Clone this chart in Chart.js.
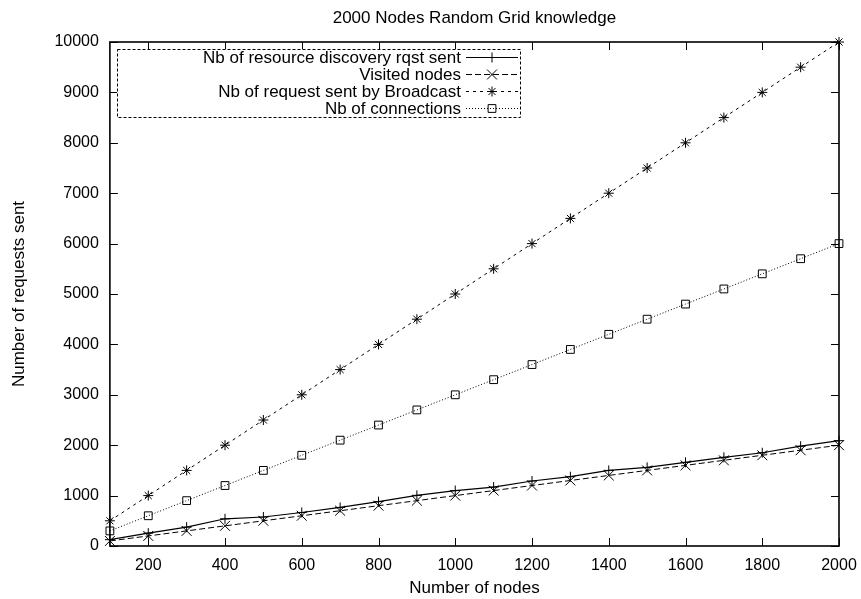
<!DOCTYPE html>
<html>
<head>
<meta charset="utf-8">
<script src="https://cdn.jsdelivr.net/npm/chart.js@4/dist/chart.umd.min.js"></script>
<style>
  body { margin: 0; background: #fff; }
  #chart { display: block; }
</style>
</head>
<body>
<canvas id="chart" width="861" height="599"></canvas>
<script>
// data
const nodes = [100, 200, 300, 400, 500, 600, 700, 800, 900, 1000, 1100, 1200, 1300, 1400, 1500, 1600, 1700, 1800, 1900, 2000];
const discoverySent = [125, 255, 375, 540, 575, 665, 765, 880, 1005, 1100, 1170, 1290, 1375, 1500, 1560, 1660, 1760, 1850, 1980, 2090];
const visitedNodes = [100, 200, 300, 400, 500, 600, 700, 800, 900, 1000, 1100, 1200, 1300, 1400, 1500, 1600, 1700, 1800, 1900, 2000];
const broadcastSent = [500, 1000, 1500, 2000, 2500, 3000, 3500, 4000, 4500, 5000, 5500, 6000, 6500, 7000, 7500, 8000, 8500, 9000, 9500, 10000];
const connections = [300, 600, 900, 1200, 1500, 1800, 2100, 2400, 2700, 3000, 3300, 3600, 3900, 4200, 4500, 4800, 5100, 5400, 5700, 6000];

const xTicks = [200, 400, 600, 800, 1000, 1200, 1400, 1600, 1800, 2000];
const yTicks = [0, 1000, 2000, 3000, 4000, 5000, 6000, 7000, 8000, 9000, 10000];

const FONT = "'Liberation Sans', Arial, sans-serif";

function toPoints(values) {
    return nodes.map((n, i) => ({ x: n, y: values[i] }));
}

function makeSet(label, values, dash, style, radius, width) {
    return {
        label: label,
        data: toPoints(values),
        borderColor: "#000",
        backgroundColor: "rgba(0,0,0,0)",
        borderWidth: width,
        borderDash: dash,
        pointStyle: style,
        pointRadius: radius,
        pointBorderColor: "#000",
        pointBackgroundColor: "rgba(0,0,0,0)",
        pointBorderWidth: 1,
        tension: 0,
        clip: false,
    };
}

// gnuplot like frame with inward ticks on all sides
const framePlugin = {
    id: "frame",
    afterDatasetsDraw(chart) {
        const ctx = chart.ctx;
        const a = chart.chartArea;
        const xs = chart.scales.x, ys = chart.scales.y;
        ctx.save();
        ctx.strokeStyle = "#000";
        ctx.lineWidth = 1;
        ctx.setLineDash([]);
        ctx.beginPath();
        xTicks.forEach(v => {
            const px = Math.round(xs.getPixelForValue(v)) + 0.5;
            ctx.moveTo(px, a.bottom); ctx.lineTo(px, a.bottom - 8);
            ctx.moveTo(px, a.top); ctx.lineTo(px, a.top + 8);
        });
        yTicks.forEach(v => {
            const py = Math.round(ys.getPixelForValue(v)) + 0.5;
            ctx.moveTo(a.left, py); ctx.lineTo(a.left + 8, py);
            ctx.moveTo(a.right, py); ctx.lineTo(a.right - 8, py);
        });
        ctx.stroke();
        ctx.lineWidth = 1.6;
        ctx.strokeRect(a.left, a.top, a.right - a.left, a.bottom - a.top);
        ctx.restore();
    }
};

// legend drawn like the gnuplot key: text right aligned, samples on the right
const keyPlugin = {
    id: "key",
    afterDraw(chart) {
        const ctx = chart.ctx;
        const boxL = 117, boxT = 49, boxR = 520, boxB = 117;
        ctx.save();
        ctx.strokeStyle = "#000";
        ctx.lineWidth = 1;
        ctx.setLineDash([3, 2]);
        ctx.fillStyle = "#fff";
        ctx.fillRect(boxL, boxT, boxR - boxL, boxB - boxT);
        ctx.strokeRect(boxL + 0.5, boxT + 0.5, boxR - boxL, boxB - boxT);
        ctx.font = "17px " + FONT;
        ctx.textAlign = "right";
        ctx.textBaseline = "middle";
        chart.data.datasets.forEach((ds, i) => {
            const y = 58 + i * 17;
            ctx.fillStyle = "#000";
            ctx.setLineDash([]);
            ctx.fillText(ds.label, 461, y);
            ctx.lineWidth = ds.borderWidth;
            ctx.setLineDash(ds.borderDash);
            ctx.beginPath();
            ctx.moveTo(466, y - 0.5);
            ctx.lineTo(518, y - 0.5);
            ctx.stroke();
            ctx.setLineDash([]);
            ctx.lineWidth = 1;
            ctx.fillStyle = "rgba(0,0,0,0)";
            Chart.helpers.drawPoint(ctx, {
                pointStyle: ds.pointStyle,
                radius: ds.pointRadius,
                rotation: 0,
                borderWidth: 1
            }, 492, y - 0.5);
        });
        ctx.restore();
    }
};

new Chart(document.getElementById("chart"), {
    type: "line",
    data: {
        datasets: [
            makeSet("Nb of resource discovery rqst sent", discoverySent, [], "cross", 5, 1.2),
            makeSet("Visited nodes", visitedNodes, [6, 3], "crossRot", 7, 1),
            makeSet("Nb of request sent by Broadcast", broadcastSent, [3, 4], "star", 5, 1),
            makeSet("Nb of connections", connections, [1, 2], "rect", 5.5, 1),
        ],
    },
    options: {
        responsive: false,
        animation: false,
        layout: { padding: { right: 10, bottom: 0 } },
        plugins: {
            legend: { display: false },
            tooltip: { enabled: false },
            title: {
                display: true,
                fullSize: false,
                text: "2000 Nodes Random Grid knowledge",
                color: "#000",
                font: { family: FONT, size: 17, weight: "normal" },
                padding: { top: 8, bottom: 13.6 },
            },
        },
        scales: {
            x: {
                type: "linear",
                min: 100,
                max: 2000,
                afterBuildTicks: scale => { scale.ticks = xTicks.map(v => ({ value: v })); },
                afterFit: scale => { scale.paddingRight = 22; },
                grid: { display: false, drawTicks: false, tickLength: 0 },
                border: { display: false },
                ticks: {
                    color: "#000", padding: 10, maxRotation: 0,
                    font: { family: FONT, size: 16 },
                    callback: v => String(v),
                },
                title: {
                    display: true,
                    text: "Number of nodes",
                    color: "#000",
                    font: { family: FONT, size: 17 },
                    padding: { top: -6.6, bottom: 0 },
                },
            },
            y: {
                type: "linear",
                min: 0,
                max: 10000,
                afterBuildTicks: scale => { scale.ticks = yTicks.map(v => ({ value: v })); },
                grid: { display: false, drawTicks: false, tickLength: 0 },
                border: { display: false },
                ticks: {
                    color: "#000", padding: 11,
                    font: { family: FONT, size: 16 },
                    callback: v => String(v),
                },
                title: {
                    display: true,
                    text: "Number of requests sent",
                    color: "#000",
                    font: { family: FONT, size: 17 },
                    padding: { top: 9, bottom: 14 },
                },
            },
        },
    },
    plugins: [framePlugin, keyPlugin],
});
</script>
</body>
</html>
